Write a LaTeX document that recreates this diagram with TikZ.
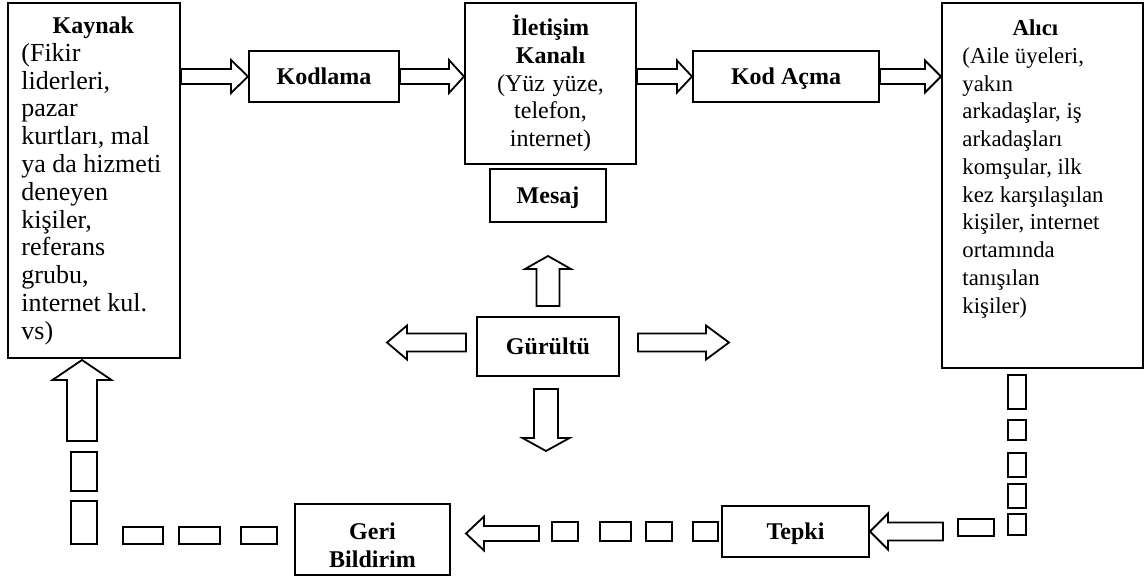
\documentclass[tikz,border=0pt]{standalone}
\usepackage{fontspec}
\setmainfont{Liberation Serif}
\usetikzlibrary{calc,fit}

% Hollow block arrow from tail #1 to tip #2:
% #3 half shaft width, #4 half head width, #5 head length
\newcommand\blockarrow[5]{%
  \coordinate (ba-t) at #1;
  \coordinate (ba-p) at #2;
  \coordinate (ba-h) at ($(ba-p)!#5!(ba-t)$);
  \draw[barrow] ($(ba-t)!#3!90:(ba-p)$) -- ($(ba-h)!#3!90:(ba-p)$)
    -- ($(ba-h)!#4!90:(ba-p)$) -- (ba-p) -- ($(ba-h)!#4!-90:(ba-p)$)
    -- ($(ba-h)!#3!-90:(ba-p)$) -- ($(ba-t)!#3!-90:(ba-p)$) -- cycle;
}
% use the font's own interword spaces inside aligned nodes
\newcommand\natsp{\spaceskip=0pt\xspaceskip=0pt\relax}
\newcommand\firstline{\rule{0pt}{11pt}}

\begin{document}
\begin{tikzpicture}[x=0.5pt,y=-0.5pt,
  every node/.style={font=\fontsize{12pt}{13.9pt}\selectfont},
  box/.style={draw, line width=1pt, inner sep=0pt},
  titlebox/.style={box, font=\fontsize{12pt}{13.9pt}\selectfont\bfseries,
    text height=8pt, text depth=0pt},
  boxtext/.style={inner sep=0pt, text width=80pt},
  barrow/.style={draw, line width=0.9pt, line join=miter, fill=white},
  dashbox/.style={draw, line width=0.9pt},
]
\useasboundingbox (0,0) rectangle (1145,578);

% boxes
\node[box, fit={(8,3) (180,358)}] (kaynak) {};
\node[titlebox, minimum width=75pt, minimum height=25.5pt] (kodlama) at (324,76.5) {Kodlama};
\node[box, fit={(465,3) (636,164)}] (iletisim) {};
\node[titlebox, minimum width=58pt, minimum height=26.5pt] (mesaj) at (548,195.5) {Mesaj};
\node[titlebox, minimum width=93pt, minimum height=25.5pt] (kodacma) at (786,76.5) {Kod Açma};
\node[box, fit={(942,3) (1143,368)}] (alici) {};
\node[titlebox, minimum width=71pt, minimum height=29.5pt] (gurultu) at (548,346.5) {Gürültü};
\node[titlebox, minimum width=73.5pt, minimum height=25.5pt] (tepki) at (795.5,531.5) {Tepki};
\node[box, fit={(295,504) (450,575)}] (geri) {};

% texts of the tall boxes
\node[boxtext, align=left, anchor=north west, font=\fontsize{13pt}{13.9pt}\selectfont]
  (kaynak-text) at (21,11)
  {\natsp\firstline\makebox[72pt][c]{\fontsize{12pt}{13.9pt}\selectfont\bfseries Kaynak}\\
   (Fikir\\liderleri,\\pazar\\kurtları, mal\\ya da hizmeti\\deneyen\\kişiler,\\referans\\grubu,\\internet kul.\\vs)};
\node[boxtext, align=left, anchor=north west, font=\fontsize{11.4pt}{13.9pt}\selectfont]
  (alici-text) at (962,13)
  {\natsp\firstline\makebox[73pt][c]{\bfseries Alıcı}\\
   (Aile üyeleri,\\yakın\\arkadaşlar, iş\\arkadaşları\\komşular, ilk\\kez karşılaşılan\\kişiler, internet\\ortamında\\tanışılan\\kişiler)};
\node[boxtext, align=center, anchor=north] (iletisim-text) at (550.5,13)
  {\natsp\firstline\textbf{İletişim}\\\textbf{Kanalı}\\(Yüz yüze,\\telefon,\\internet)};
\node[boxtext, align=center, anchor=north, font=\fontsize{12pt}{13.9pt}\selectfont\bfseries]
  (geri-text) at (372.5,517)
  {\firstline Geri\\Bildirim};

% main flow
\blockarrow{(kaynak.east |- kodlama.west)}{(kodlama.west)}{3.75pt}{8.25pt}{8.5pt}
\blockarrow{(kodlama.east)}{(iletisim.west |- kodlama.east)}{3.75pt}{8.25pt}{7.5pt}
\blockarrow{(iletisim.east |- kodacma.west)}{(kodacma.west)}{3.75pt}{8pt}{7.5pt}
\blockarrow{(kodacma.east)}{(alici.west |- kodacma.east)}{3.75pt}{8pt}{8pt}

% noise spreading out
\blockarrow{($(gurultu.north)+(0,-10)$)}{($(gurultu.north)+(0,-60)$)}{5.75pt}{11.5pt}{6.5pt}
\blockarrow{($(gurultu.west)+(-10,-4)$)}{($(gurultu.west)+(-89,-4)$)}{4.5pt}{8.5pt}{10pt}
\blockarrow{($(gurultu.east)+(18,-4)$)}{($(gurultu.east)+(109,-4)$)}{4.5pt}{8.5pt}{11.5pt}
\blockarrow{($(gurultu.south)+(-2,12)$)}{($(gurultu.south)+(-2,74)$)}{6pt}{11.75pt}{6.5pt}

% feedback loop
\blockarrow{($(tepki.east)+(73,0)$)}{(tepki.east)}{4.5pt}{9pt}{9pt}
\blockarrow{($(geri.east)+(88,-6)$)}{($(geri.east)+(15,-6)$)}{3.75pt}{8.5pt}{9pt}
\blockarrow{($(kaynak.south)+(-12,82)$)}{($(kaynak.south)+(-12,1)$)}{7.5pt}{14.75pt}{10pt}

% broken segments of the loop
\foreach \ya/\yb in {375/409, 420/440, 453/477, 484/508, 514/535}
  \draw[dashbox] (1008,\ya) rectangle (1026,\yb);
\draw[dashbox] (958,519) rectangle (994,536);
\foreach \xa/\xb in {552/578, 600/631, 646/672, 693/718}
  \draw[dashbox] (\xa,522) rectangle (\xb,541);
\foreach \xa/\xb in {123/163, 179/220, 241/277}
  \draw[dashbox] (\xa,527) rectangle (\xb,544);
\foreach \ya/\yb in {452/491, 501/544}
  \draw[dashbox] (71,\ya) rectangle (97,\yb);
\end{tikzpicture}
\end{document}
